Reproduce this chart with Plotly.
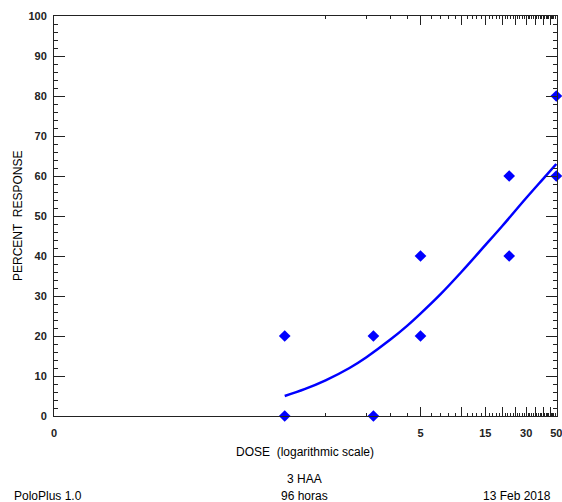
import plotly.graph_objects as go
import math

# Observed data (dose, percent response)
obs_dose = [0.5, 0.5, 2.25, 2.25, 5, 5, 22.5, 22.5, 50, 50]
obs_resp = [20, 0, 20, 0, 40, 20, 60, 40, 80, 60]

# Fitted probit curve
fit_dose = [0.5, 0.7, 1, 1.5, 2, 3, 4, 5, 7, 10, 15, 20, 30, 40, 50]
fit_resp = [5.0, 6.7, 8.9, 12.0, 14.7, 19.1, 22.6, 25.6, 30.4, 36.0, 42.7, 47.5, 54.5, 59.3, 63.0]

# Axis ticks
x_major_vals = [0.01, 5, 10, 15, 20, 25, 30, 35, 40, 45, 50]
x_major_text = ["0", "5", "", "15", "", "", "30", "", "", "", "50"]
x_minor_vals = [1, 2, 3, 4] + [v for v in range(6, 50) if v % 5 != 0]
y_major_vals = list(range(0, 101, 10))
y_minor_vals = [v for v in range(0, 101, 2) if v % 10 != 0]

FONT = "Liberation Sans, Arial, sans-serif"
BLUE = "#0000ff"

fig = go.Figure()
fig.add_trace(go.Scatter(x=fit_dose, y=fit_resp, mode="lines",
                         line=dict(color=BLUE, width=2.5, shape="spline"),
                         hoverinfo="skip", cliponaxis=False))
fig.add_trace(go.Scatter(x=obs_dose, y=obs_resp, mode="markers",
                         marker=dict(symbol="diamond", size=9, color=BLUE,
                                     line=dict(width=0)),
                         cliponaxis=False))

fig.update_layout(
    width=562, height=502,
    margin=dict(l=54, r=5, t=16, b=86),
    paper_bgcolor="white", plot_bgcolor="white",
    showlegend=False,
    font=dict(family=FONT, color="black"),
    xaxis=dict(type="log", range=[-2, math.log10(50.6)], automargin=False,
               showgrid=False, zeroline=False,
               showline=True, linecolor="#222", linewidth=1, mirror="allticks",
               ticks="inside", ticklen=9, tickwidth=1, tickcolor="#222",
               tickmode="array", tickvals=x_major_vals, ticktext=x_major_text,
               tickfont=dict(size=11, weight="bold", color="#222"),
               ticklabelstandoff=7, ticklabeloverflow="allow",
               minor=dict(tickmode="array", tickvals=x_minor_vals, ticks="inside",
                          ticklen=3, tickwidth=1, tickcolor="#222", showgrid=False)),
    yaxis=dict(range=[0, 100], automargin=False,
               showgrid=False, zeroline=False,
               showline=True, linecolor="#222", linewidth=1, mirror="allticks",
               ticks="inside", ticklen=11, tickwidth=1, tickcolor="#222",
               tickmode="array", tickvals=y_major_vals,
               ticktext=[str(v) for v in y_major_vals],
               tickfont=dict(size=11, weight="bold", color="#222"),
               ticklabelstandoff=4,
               minor=dict(tickmode="array", tickvals=y_minor_vals, ticks="inside",
                          ticklen=4, tickwidth=1, tickcolor="#222", showgrid=False)),
)

def ann(text, x, y, xanchor="center", angle=0):
    fig.add_annotation(text=text, x=x, y=y, xref="paper", yref="paper",
                       xanchor=xanchor, yanchor="middle", showarrow=False,
                       textangle=angle, font=dict(family=FONT, size=12, color="black"))

ann("PERCENT  RESPONSE", -0.0716, 0.5, angle=-90)
ann("DOSE  (logarithmic scale)", 0.499, -0.09)
ann("3 HAA", 0.499, -0.1575)
ann("PoloPlus 1.0", -0.0835, -0.2, xanchor="left")
ann("96 horas", 0.499, -0.2)
ann("13 Feb 2018", 0.992, -0.2, xanchor="right")

fig.write_html("out.html")
